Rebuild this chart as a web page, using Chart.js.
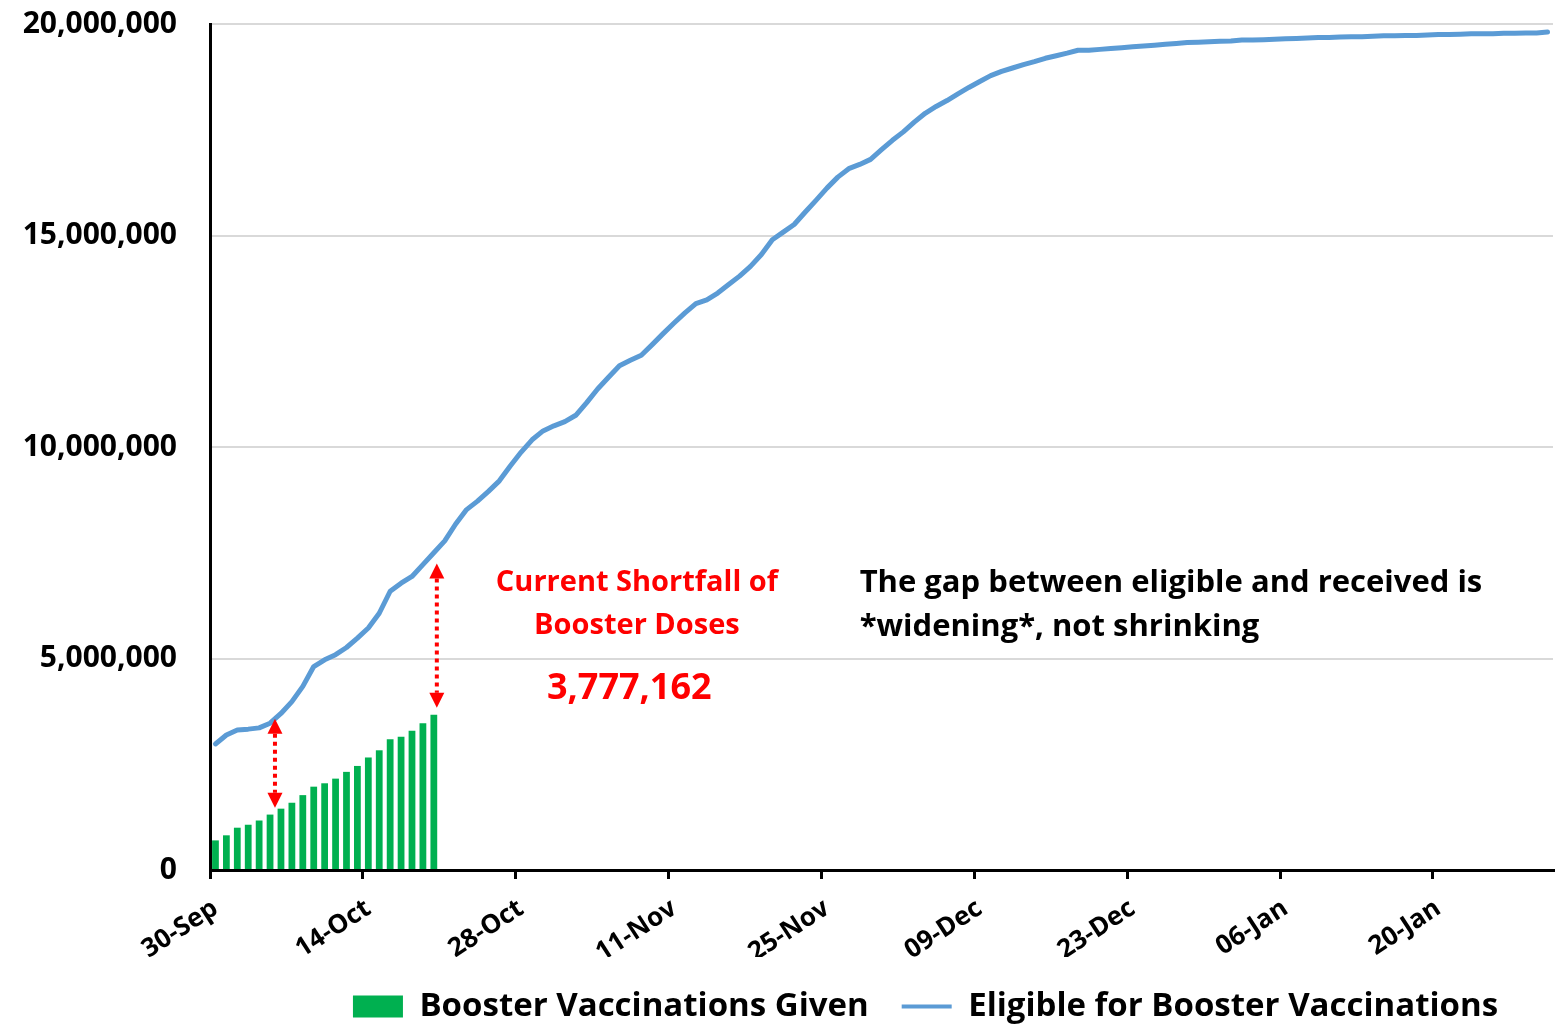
<!DOCTYPE html>
<html>
<head>
<meta charset="utf-8">
<title>Booster vaccinations vs eligible</title>
<script src="https://cdn.jsdelivr.net/npm/chart.js@4.4.1/dist/chart.umd.min.js"></script>
<style>
  html, body { margin: 0; padding: 0; background: #ffffff; }
  canvas { display: block; }
</style>
</head>
<body>
<canvas id="boosterChart" width="1562" height="1033"></canvas>
<script>
// ---- data ----
const startDay = { year: 2021, month: 8, day: 30 }; // 30-Sep
const monthNames = ["Jan", "Feb", "Mar", "Apr", "May", "Jun", "Jul", "Aug", "Sep", "Oct", "Nov", "Dec"];

const tickLabels = ["30-Sep", "14-Oct", "28-Oct", "11-Nov", "25-Nov", "09-Dec", "23-Dec", "06-Jan", "20-Jan"];

const boosterGiven = [
  700000, 820000, 1000000, 1070000, 1170000, 1310000, 1450000, 1590000, 1770000, 1970000,
  2050000, 2160000, 2320000, 2460000, 2660000, 2830000, 3090000, 3150000, 3290000, 3470000,
  3670000
];

const eligibleForBooster = [
  2980000, 3190000, 3310000, 3330000, 3360000, 3470000, 3700000, 3980000, 4340000, 4810000,
  4970000, 5090000, 5260000, 5480000, 5720000, 6070000, 6590000, 6780000, 6940000, 7220000,
  7500000, 7780000, 8180000, 8520000, 8720000, 8950000, 9200000, 9550000, 9880000, 10170000,
  10380000, 10500000, 10600000, 10750000, 11050000, 11370000, 11650000, 11920000, 12050000, 12170000,
  12420000, 12680000, 12930000, 13170000, 13390000, 13480000, 13640000, 13840000, 14040000, 14270000,
  14550000, 14900000, 15080000, 15260000, 15550000, 15830000, 16120000, 16380000, 16580000, 16680000,
  16800000, 17030000, 17250000, 17450000, 17680000, 17890000, 18050000, 18190000, 18350000, 18500000,
  18640000, 18780000, 18880000, 18960000, 19040000, 19110000, 19190000, 19250000, 19310000, 19380000,
  19380000, 19400000, 19420000, 19440000, 19460000, 19480000, 19500000, 19520000, 19540000, 19560000,
  19570000, 19580000, 19590000, 19600000, 19620000, 19620000, 19630000, 19640000, 19650000, 19660000,
  19670000, 19680000, 19680000, 19690000, 19700000, 19700000, 19710000, 19720000, 19720000, 19730000,
  19730000, 19740000, 19750000, 19750000, 19760000, 19770000, 19770000, 19770000, 19780000, 19780000,
  19790000, 19790000, 19810000
];

const shortfallText = "3,777,162";

// one category per day
const dateLabels = [];
for (let i = 0; i < eligibleForBooster.length; i++) {
  const d = new Date(startDay.year, startDay.month, startDay.day + i);
  dateLabels.push(String(d.getDate()).padStart(2, "0") + "-" + monthNames[d.getMonth()]);
}

// ---- styles ----
const GREEN = "#00b050";
const BLUE = "#5b9bd5";
const RED = "#ff0000";
const FONT = "'Open Sans', 'Liberation Sans', sans-serif";

// red dotted arrows between the bars and the line
const gapArrows = [
  { bar: 6, dx: -6, gapLow: 1, gapHigh: 0 },
  { bar: 20, dx: 3, gapLow: 7, gapHigh: 14 }
];

// text notes, placed in data units
const notes = [
  { text: "Current Shortfall of", day: 38.6, value: 6780000, color: RED, size: 29, align: "center" },
  { text: "Booster Doses", day: 38.6, value: 5780000, color: RED, size: 29, align: "center" },
  { text: shortfallText, day: 37.9, value: 4290000, color: RED, size: 36, align: "center" },
  { text: "The gap between eligible and received is", day: 59.0, value: 6780000, color: "#000", size: 31, align: "left" },
  { text: "*widening*, not shrinking", day: 59.0, value: 5730000, color: "#000", size: 31, align: "left" }
];

const LEGEND_SHIFT = 149;

const annotationPlugin = {
  id: "shortfallNotes",
  afterLayout(chart) {
    // legend sits right of centre in the original
    const lg = chart.legend;
    if (lg) {
      lg.left += LEGEND_SHIFT;
      lg.right += LEGEND_SHIFT;
    }
  },
  afterDatasetsDraw(chart) {
    const { ctx, scales: { x, y } } = chart;
    ctx.save();

    gapArrows.forEach((a) => {
      const px = x.getPixelForValue(a.bar) + a.dx;
      // line value at that x
      const dayPos = a.bar + a.dx / (x.getPixelForValue(1) - x.getPixelForValue(0));
      const i0 = Math.floor(dayPos);
      const f = dayPos - i0;
      const lineVal = eligibleForBooster[i0] * (1 - f) + eligibleForBooster[i0 + 1] * f;
      const yLow = y.getPixelForValue(boosterGiven[a.bar]) - a.gapLow;
      const yHigh = y.getPixelForValue(lineVal) + a.gapHigh;
      const head = 15;

      ctx.strokeStyle = RED;
      ctx.lineWidth = 4;
      ctx.setLineDash([4, 4]);
      ctx.beginPath();
      ctx.moveTo(px, yHigh + head);
      ctx.lineTo(px, yLow - head);
      ctx.stroke();
      ctx.setLineDash([]);

      ctx.fillStyle = RED;
      ctx.beginPath();
      ctx.moveTo(px, yHigh);
      ctx.lineTo(px - head / 2, yHigh + head);
      ctx.lineTo(px + head / 2, yHigh + head);
      ctx.closePath();
      ctx.fill();
      ctx.beginPath();
      ctx.moveTo(px, yLow);
      ctx.lineTo(px - head / 2, yLow - head);
      ctx.lineTo(px + head / 2, yLow - head);
      ctx.closePath();
      ctx.fill();
    });

    notes.forEach((n) => {
      ctx.font = "bold " + n.size + "px " + FONT;
      ctx.fillStyle = n.color;
      ctx.textAlign = n.align;
      ctx.textBaseline = "middle";
      ctx.fillText(n.text, x.getPixelForValue(n.day), y.getPixelForValue(n.value));
    });

    ctx.restore();
  }
};

new Chart(document.getElementById("boosterChart"), {
  type: "bar",
  data: {
    labels: dateLabels,
    datasets: [
      {
        type: "bar",
        label: "Booster Vaccinations Given",
        data: boosterGiven,
        backgroundColor: GREEN,
        borderWidth: 0,
        categoryPercentage: 1,
        barPercentage: 0.62
      },
      {
        type: "line",
        label: "Eligible for Booster Vaccinations",
        data: eligibleForBooster,
        borderColor: BLUE,
        backgroundColor: BLUE,
        borderWidth: 5,
        pointRadius: 0,
        tension: 0,
        borderCapStyle: "round",
        borderJoinStyle: "round"
      }
    ]
  },
  options: {
    responsive: false,
    animation: false,
    devicePixelRatio: 1,
    layout: { padding: { top: 0, right: 9, bottom: 0, left: 0 } },
    plugins: {
      tooltip: { enabled: false },
      legend: {
        position: "bottom",
        labels: {
          font: { family: FONT, size: 33, weight: "bold" },
          color: "#000",
          usePointStyle: true,
          pointStyleWidth: 50,
          boxHeight: 22,
          padding: 33,
          generateLabels(chart) {
            const items = Chart.defaults.plugins.legend.labels.generateLabels(chart);
            items.forEach((it) => {
              if (it.datasetIndex === 0) {
                it.pointStyle = "rect";
                it.fillStyle = GREEN;
                it.lineWidth = 0;
              } else {
                it.pointStyle = "line";
                it.strokeStyle = BLUE;
                it.lineWidth = 4;
              }
            });
            return items.sort((a, b) => a.datasetIndex - b.datasetIndex);
          }
        }
      }
    },
    scales: {
      x: {
        type: "category",
        offset: true,
        grid: {
          offset: true,
          drawOnChartArea: false,
          drawTicks: true,
          tickLength: 9,
          lineWidth: 3,
          color: (c) => (tickLabels.includes(dateLabels[c.index]) ? "#000" : "rgba(0,0,0,0)")
        },
        border: { display: true, color: "#000", width: 3 },
        ticks: {
          autoSkip: false,
          minRotation: 33,
          maxRotation: 33,
          padding: 14,
          color: "#000",
          font: { family: FONT, size: 26, weight: "bold" },
          callback(value) {
            const lbl = this.getLabelForValue(value);
            return tickLabels.includes(lbl) ? lbl : "";
          }
        },
        afterFit(scale) {
          scale.height = 87;
          scale.paddingLeft = 0;
          scale.paddingRight = 0;
        }
      },
      y: {
        min: 0,
        max: 20000000,
        grid: { color: "#d9d9d9", lineWidth: 2, drawTicks: false },
        border: { display: true, color: "#000", width: 3 },
        ticks: {
          stepSize: 5000000,
          padding: 33,
          color: "#000",
          font: { family: FONT, size: 30, weight: "bold" },
          callback: (v) => v.toLocaleString("en-US")
        },
        afterFit(scale) {
          scale.width = 210;
          scale.paddingTop = 24;
        }
      }
    }
  },
  plugins: [annotationPlugin]
});
</script>
</body>
</html>
